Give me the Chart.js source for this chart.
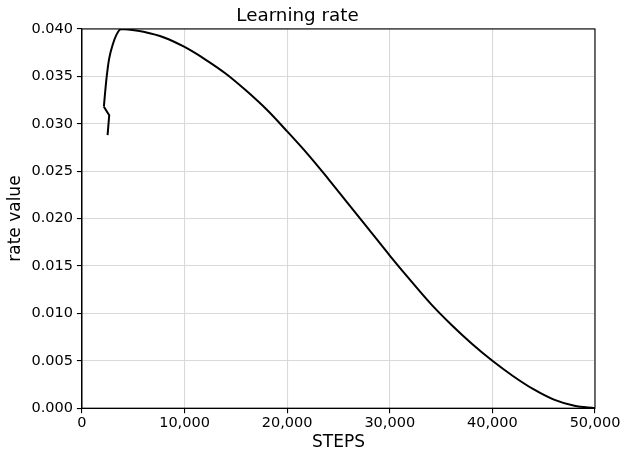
<!DOCTYPE html>
<html>
<head>
<meta charset="utf-8">
<script src="https://cdn.jsdelivr.net/npm/chart.js@4/dist/chart.umd.min.js"></script>
<style>
    html, body { margin: 0; padding: 0; background: #fff; }
    #wrap { width: 627px; height: 453px; position: relative; }
</style>
</head>
<body>
<div id="wrap"><canvas id="lrChart"></canvas></div>
<script>
// values (warmup wiggle first, then the decay)
const steps = [2500, 2660, 2140, 2270, 2430, 2660, 2990, 3370, 3800, 4500, 6000, 8000, 10000, 12000, 14000, 16000, 18000, 20000, 22000, 24000, 26000, 28000, 30000, 32000, 34000, 36000, 38000, 40000, 42000, 44000, 46000, 48000, 50000];
const rates = [0.0288, 0.0309, 0.0318, 0.0334, 0.0351, 0.0369, 0.0383, 0.0394, 0.0400, 0.03995, 0.0397, 0.0391, 0.0381, 0.0368, 0.0353, 0.0335, 0.0315, 0.0292, 0.0268, 0.0242, 0.0215, 0.0188, 0.0161, 0.0135, 0.0110, 0.0088, 0.0068, 0.0050, 0.0034, 0.0020, 0.0009, 0.00025, 0.0];
const xTicks = [0, 10000, 20000, 30000, 40000, 50000];
const yTicks = [0, 0.005, 0.01, 0.015, 0.02, 0.025, 0.03, 0.035, 0.04];

const FONT = "'DejaVu Sans', sans-serif";
const KINK = 3; // first 3 points are the sharp jag, rest is smooth

// matplotlib style box around the plot area
const frame = {
    id: 'frame',
    afterDatasetsDraw(chart) {
        const a = chart.chartArea;
        const ctx = chart.ctx;
        ctx.save();
        ctx.strokeStyle = '#000';
        ctx.lineWidth = 1.1;
        ctx.strokeRect(a.left, a.top, a.right - a.left, a.bottom - a.top);
        ctx.restore();
    }
};

const points = steps.map((s, i) => ({ x: s, y: rates[i] }));

const lineStyle = {
    borderColor: '#000',
    borderWidth: 2,
    pointRadius: 0,
    fill: false
};

new Chart(document.getElementById('lrChart').getContext('2d'), {
    type: 'line',
    data: {
        datasets: [
            Object.assign({ label: 'jag', data: points.slice(0, KINK), tension: 0 }, lineStyle),
            Object.assign({ label: 'lr', data: points.slice(KINK - 1), tension: 0.35 }, lineStyle)
        ]
    },
    options: {
        responsive: true,
        maintainAspectRatio: false,
        animation: false,
        layout: { padding: { left: 0, right: 32, top: 0, bottom: 0 } },
        plugins: {
            legend: { display: false },
            tooltip: { enabled: false },
            title: {
                display: true,
                text: 'Learning rate',
                color: '#000',
                font: { family: FONT, size: 18.3, weight: 'normal' },
                padding: { top: 5, bottom: 2 }
            }
        },
        scales: {
            x: {
                type: 'linear',
                min: 0,
                max: 50000,
                afterBuildTicks: axis => { axis.ticks = xTicks.map(v => ({ value: v })); },
                ticks: {
                    color: '#000',
                    font: { family: FONT, size: 14.5 },
                    padding: 1,
                    maxRotation: 0,
                    callback: v => v.toLocaleString('en-US')
                },
                grid: { color: '#d9d9d9', lineWidth: 1.1, tickColor: '#000', tickLength: 5 },
                border: { color: '#000', width: 1.1 },
                title: {
                    display: true,
                    text: 'STEPS',
                    color: '#000',
                    font: { family: FONT, size: 17 },
                    padding: { top: 0, bottom: 0 }
                }
            },
            y: {
                type: 'linear',
                min: 0,
                max: 0.04,
                afterBuildTicks: axis => { axis.ticks = yTicks.map(v => ({ value: v })); },
                ticks: {
                    color: '#000',
                    font: { family: FONT, size: 14.5 },
                    padding: 4,
                    callback: v => v.toFixed(3)
                },
                grid: { color: '#d9d9d9', lineWidth: 1.1, tickColor: '#000', tickLength: 5 },
                border: { color: '#000', width: 1.1 },
                title: {
                    display: true,
                    text: 'rate value',
                    color: '#000',
                    font: { family: FONT, size: 17 },
                    padding: { top: 5, bottom: 2 }
                }
            }
        }
    },
    plugins: [frame]
});
</script>
</body>
</html>
